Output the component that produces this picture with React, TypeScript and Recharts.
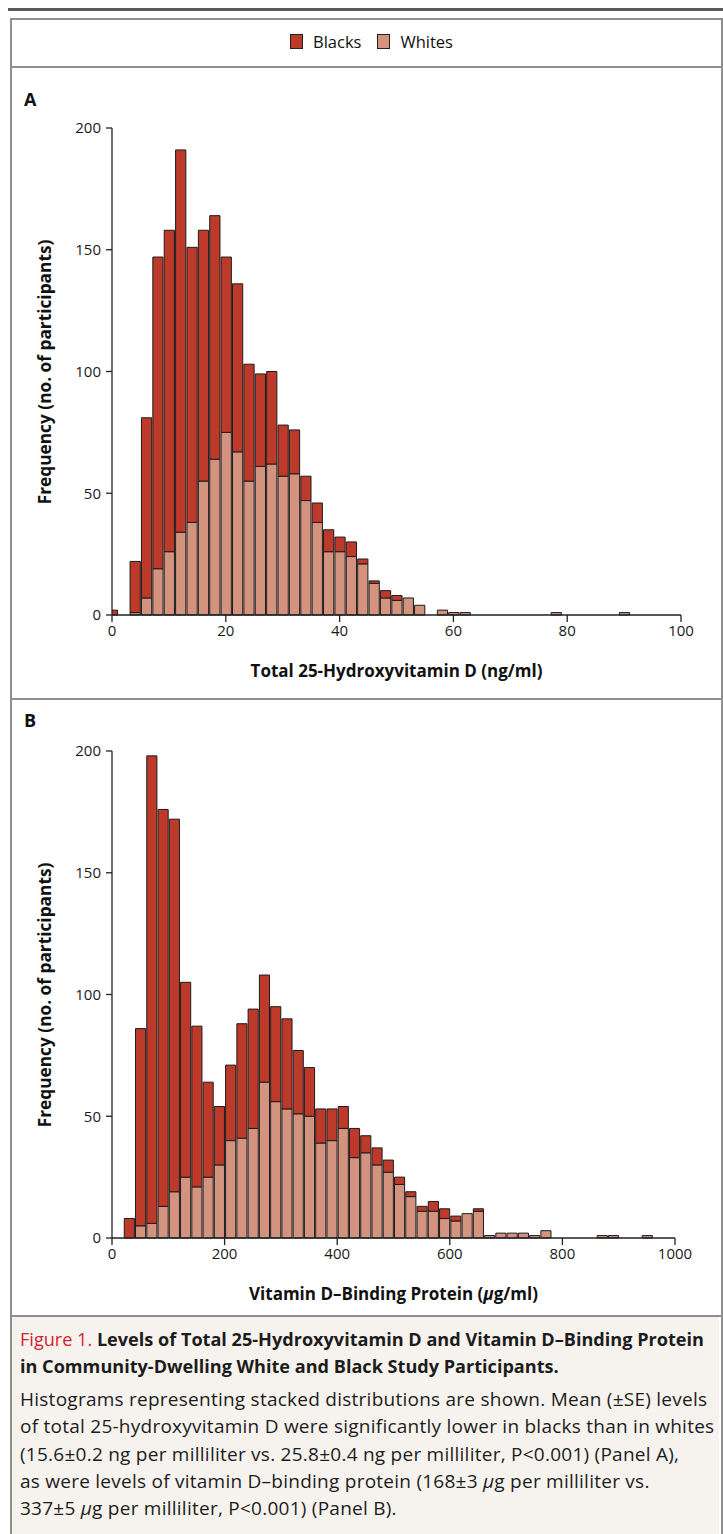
import { BarChart, Bar, XAxis, YAxis } from "recharts";

const FONT = '"Open Sans", "Noto Sans", sans-serif';
const W = 723;

const SERIES = [
  { key: "blacks", name: "Blacks", color: "#bd3a2b" },
  { key: "whites", name: "Whites", color: "#d3937e" },
];

// Panel A: total 25-hydroxyvitamin D, bins 2 ng/ml wide (centers)
const binsA = [0, 2, 4, 6, 8, 10, 12, 14, 16, 18, 20, 22, 24, 26, 28, 30, 32, 34, 36, 38, 40, 42, 44, 46, 48, 50, 52, 54, 56, 58, 60, 62, 78, 90];
const whitesA = [0, 0, 1, 7, 19, 26, 34, 38, 55, 64, 75, 67, 55, 61, 62, 57, 58, 47, 38, 26, 26, 24, 21, 13, 7, 6, 7, 4, 0, 2, 1, 1, 1, 1];
const blacksA = [2, 0, 21, 74, 128, 132, 157, 113, 103, 100, 72, 69, 48, 38, 38, 21, 18, 10, 8, 9, 6, 6, 2, 1, 3, 2, 0, 0, 0, 0, 0, 0, 0, 0];
const xTicksA = [0, 20, 40, 60, 80, 100];

// Panel B: vitamin D-binding protein, bins 20 ug/ml wide (centers)
const binsB = [30, 50, 70, 90, 110, 130, 150, 170, 190, 210, 230, 250, 270, 290, 310, 330, 350, 370, 390, 410, 430, 450, 470, 490, 510, 530, 550, 570, 590, 610, 630, 650, 670, 690, 710, 730, 750, 770, 870, 890, 950];
const whitesB = [0, 5, 6, 13, 19, 25, 21, 25, 30, 40, 41, 45, 64, 56, 53, 51, 50, 39, 40, 45, 33, 35, 30, 27, 22, 17, 11, 11, 8, 7, 10, 11, 1, 2, 2, 2, 1, 3, 1, 1, 1];
const blacksB = [8, 81, 192, 163, 153, 80, 66, 39, 24, 31, 47, 49, 44, 39, 37, 26, 20, 14, 13, 9, 12, 7, 7, 5, 3, 2, 2, 4, 4, 2, 0, 1, 0, 0, 0, 0, 0, 0, 0, 0, 0];
const xTicksB = [0, 200, 400, 600, 800, 1000];

const yTicks = [0, 50, 100, 150, 200];

const AXIS = "#222";
const BORDER = "#8e8e8e";

function HistPanel({ top, height, label, labelTop, bins, whites, blacks, xMax, xTicks, xTitle, plotTop, plotBottom, plotRight }: any) {
  const data = bins.map((x: number, i: number) => ({ x, whites: whites[i], blacks: blacks[i] }));
  const YW = 60;
  const XH = 30;
  const plotLeft = 112;
  // one bin = distance between the first two bin centres
  const barSize = ((plotRight - plotLeft) * (bins[1] - bins[0])) / xMax;
  const white = SERIES[1];
  const black = SERIES[0];
  return (
    <div style={{ position: "absolute", left: 0, top, width: W, height }}>
      <div style={{ position: "absolute", left: 24, top: labelTop, fontWeight: 700, fontSize: 18, color: "#111" }}>{label}</div>
      <BarChart
        width={W}
        height={height}
        data={data}
        margin={{ top: plotTop, left: plotLeft - YW, right: W - plotRight, bottom: height - plotBottom - XH }}
        barCategoryGap={0}
        barGap={0}
      >
        <XAxis
          type="number"
          dataKey="x"
          domain={[0, xMax]}
          ticks={xTicks}
          interval={0}
          allowDataOverflow
          height={XH}
          tickSize={7}
          tickMargin={3}
          stroke={AXIS}
          strokeWidth={1.3}
          tick={{ fill: "#1a1a1a", fontSize: 15 }}
        />
        <YAxis
          type="number"
          domain={[0, 200]}
          ticks={yTicks}
          interval={0}
          width={YW}
          tickSize={6}
          tickMargin={5}
          stroke={AXIS}
          strokeWidth={1.3}
          tick={{ fill: "#1a1a1a", fontSize: 15 }}
        />
        <Bar dataKey="whites" name={white.name} stackId="s" fill={white.color} stroke="#1c1c1c" strokeWidth={1} barSize={barSize} isAnimationActive={false} />
        <Bar dataKey="blacks" name={black.name} stackId="s" fill={black.color} stroke="#1c1c1c" strokeWidth={1} barSize={barSize} isAnimationActive={false} />
      </BarChart>
      <div style={{
        position: "absolute", left: (plotLeft + plotRight) / 2, top: plotBottom + 55,
        transform: "translate(-50%, -50%)", fontWeight: 700, fontSize: 17, whiteSpace: "nowrap", color: "#111",
      }}>{xTitle}</div>
      <div style={{
        position: "absolute", left: 44, top: (plotTop + plotBottom) / 2,
        transform: "translate(-50%, -50%) rotate(-90deg)", fontWeight: 700, fontSize: 17.3, whiteSpace: "nowrap", color: "#111",
      }}>Frequency (no. of participants)</div>
    </div>
  );
}

export default function App() {
  return (
    <div style={{ position: "absolute", left: 0, top: 0, width: W, height: 1534, background: "#fff", fontFamily: FONT, overflow: "hidden" }}>
      {/* top rule */}
      <div style={{ position: "absolute", left: 8, top: 8, width: W - 8, height: 3, background: "#5a5a5a" }} />
      {/* frame */}
      <div style={{ position: "absolute", left: 10, top: 18, width: 709, height: 1530, border: `2px solid ${BORDER}`, borderBottom: "none" }} />
      <div style={{ position: "absolute", left: 10, top: 66, width: 711, height: 2, background: BORDER }} />
      <div style={{ position: "absolute", left: 10, top: 698, width: 711, height: 2, background: BORDER }} />
      <div style={{ position: "absolute", left: 12, top: 1317, width: 707, height: 1534 - 1317, background: "#f6f3ee" }} />
      <div style={{ position: "absolute", left: 10, top: 1315, width: 711, height: 2, background: BORDER }} />

      {/* legend */}
      <div style={{ position: "absolute", left: 290, top: 30, display: "flex", fontSize: 16.5, color: "#111", whiteSpace: "nowrap" }}>
        {SERIES.map((s) => (
          <div key={s.key} style={{ display: "flex", alignItems: "center", marginRight: 16 }}>
            <span style={{ display: "inline-block", width: 11, height: 13, background: s.color, border: "1px solid #222", marginRight: 10 }} />
            <span>{s.name}</span>
          </div>
        ))}
      </div>

      <HistPanel
        top={0}
        height={698}
        label="A"
        labelTop={87}
        bins={binsA}
        whites={whitesA}
        blacks={blacksA}
        xMax={100}
        xTicks={xTicksA}
        xTitle="Total 25-Hydroxyvitamin D (ng/ml)"
        plotTop={128}
        plotBottom={615}
        plotRight={681}
      />
      <HistPanel
        top={700}
        height={615}
        label="B"
        labelTop={8}
        bins={binsB}
        whites={whitesB}
        blacks={blacksB}
        xMax={1000}
        xTicks={xTicksB}
        xTitle={<span>Vitamin D–Binding Protein (<i>μ</i>g/ml)</span>}
        plotTop={51}
        plotBottom={538}
        plotRight={675}
      />

      {/* caption */}
      <div style={{ position: "absolute", left: 20, top: 1326, width: 700, color: "#1c1c1c", whiteSpace: "nowrap" }}>
        <div style={{ fontSize: 18.1, fontWeight: 700, lineHeight: "27px" }}>
          <span style={{ color: "#d1222f", fontWeight: 400 }}>Figure 1.</span> Levels of Total 25-Hydroxyvitamin D and Vitamin D–Binding Protein<br />
          in Community-Dwelling White and Black Study Participants.
        </div>
        <div style={{ fontSize: 19, letterSpacing: 0.25, lineHeight: "27.3px", marginTop: 6 }}>
          Histograms representing stacked distributions are shown. Mean (±SE) levels<br />
          of total 25-hydroxyvitamin D were significantly lower in blacks than in whites<br />
          (15.6±0.2 ng per milliliter vs. 25.8±0.4 ng per milliliter, P&lt;0.001) (Panel A),<br />
          as were levels of vitamin D–binding protein (168±3 <i>μ</i>g per milliliter vs.<br />
          337±5 <i>μ</i>g per milliliter, P&lt;0.001) (Panel B).
        </div>
      </div>
    </div>
  );
}
